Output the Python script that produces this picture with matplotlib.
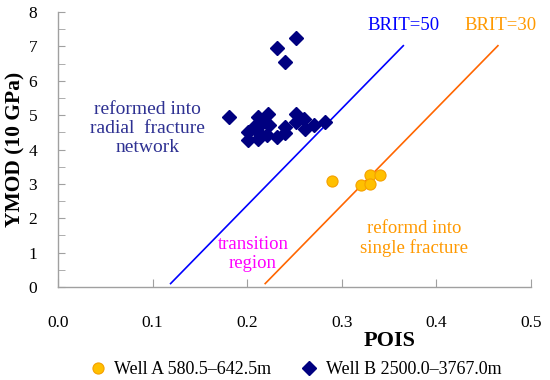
import matplotlib
matplotlib.use("Agg")
import matplotlib.pyplot as plt
from matplotlib.ticker import MultipleLocator

plt.rcParams['font.family'] = ['Liberation Serif', 'DejaVu Serif']

# Well A (circles)
wellA_pois = [0.29, 0.32, 0.33, 0.33, 0.34]
wellA_ymod = [3.09, 2.97, 3.26, 2.99, 3.26]

# Well B (diamonds)
wellB_pois = [0.181, 0.211, 0.222, 0.216, 0.223, 0.207, 0.201, 0.211, 0.221, 0.201,
              0.211, 0.232, 0.240, 0.240, 0.252, 0.252, 0.260, 0.261, 0.271, 0.282,
              0.231, 0.252, 0.240]
wellB_ymod = [4.95, 4.95, 5.03, 4.78, 4.71, 4.66, 4.51, 4.51, 4.42, 4.27,
              4.32, 4.35, 4.66, 4.49, 5.03, 4.80, 4.88, 4.61, 4.71, 4.80,
              6.96, 7.23, 6.55]

# BRIT lines (end points)
brit50_pois = [0.119, 0.365]
brit50_ymod = [0.10, 7.02]
brit30_pois = [0.219, 0.465]
brit30_ymod = [0.10, 7.02]

fig = plt.figure(figsize=(5.5, 3.8), dpi=100)
ax = fig.add_axes([0.1055, 0.2447, 0.86, 0.7237])

ax.plot(brit50_pois, brit50_ymod, color='#0000FF', lw=1.2)
ax.plot(brit30_pois, brit30_ymod, color='#FF6600', lw=1.2)

ax.plot(wellA_pois, wellA_ymod, 'o', ls='none', ms=8, mfc='#FFC000',
        mec='#F5A000', mew=0.8, label='Well A 580.5\u2013642.5m')
ax.plot(wellB_pois, wellB_ymod, 'D', ls='none', ms=7.2, mfc='#000080',
        mec='#000080', label='Well B 2500.0\u20133767.0m')

ax.set_xlim(0, 0.5)
ax.set_ylim(0, 8)
ax.xaxis.set_major_locator(MultipleLocator(0.1))
ax.yaxis.set_major_locator(MultipleLocator(1))
ax.yaxis.set_minor_locator(MultipleLocator(0.5))
ax.xaxis.set_major_formatter(plt.FuncFormatter(lambda v, p: f"{v:.1f}"))

for s in ['top', 'right']:
    ax.spines[s].set_visible(False)
for s in ['left', 'bottom']:
    ax.spines[s].set_color('#A0A0A0')
    ax.spines[s].set_linewidth(1.0)

ax.tick_params(axis='both', which='both', direction='in', color='#A0A0A0',
               labelsize=12.5)
ax.tick_params(axis='x', which='major', length=6, pad=20)
ax.tick_params(axis='y', which='major', length=5, pad=15)
ax.tick_params(axis='y', which='minor', length=5)

ax.set_xlabel('POIS', fontsize=16, fontweight='bold')
ax.xaxis.set_label_coords(0.70, -0.16)
ax.set_ylabel('YMOD (10 GPa)', fontsize=15.5, fontweight='bold', labelpad=2)

ax.text(0.365, 7.62, 'BRIT=50', color='#0000FF', fontsize=13.5, ha='center', va='center')
ax.text(0.468, 7.62, 'BRIT=30', color='#FF9900', fontsize=13.5, ha='center', va='center')
ax.text(0.095, 4.62, 'reformed into\nradial  fracture\nnetwork', color='#2E3192',
        fontsize=14, ha='center', va='center', linespacing=1.15)
ax.text(0.206, 0.96, 'transition\nregion', color='#FF00FF', fontsize=13.5,
        ha='center', va='center', linespacing=1.15)
ax.text(0.376, 1.40, 'reformd into\nsingle fracture', color='#FF9900', fontsize=13.5,
        ha='center', va='center', linespacing=1.15)

fig.legend(loc='center', bbox_to_anchor=(0.535, 0.028), ncol=2, frameon=False,
           fontsize=13, handletextpad=0.3, columnspacing=1.5, handlelength=1.2)

fig.savefig('out.png', dpi=100)
